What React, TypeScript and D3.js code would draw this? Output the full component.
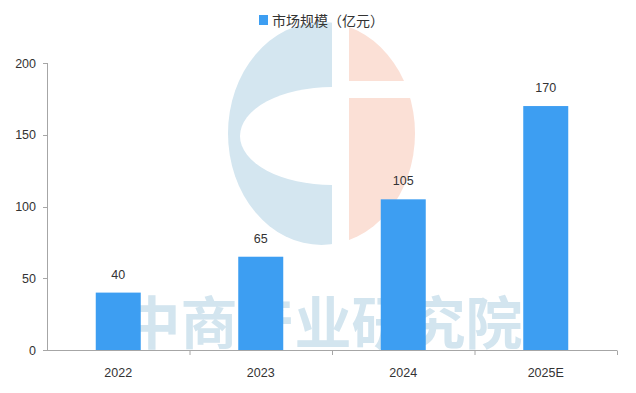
import React from "react";
import * as d3 from "d3";

const categories = ["2022", "2023", "2024", "2025E"];
const values = [40, 65, 105, 170];
const yTicks = [0, 50, 100, 150, 200];
const legendLabel = "市场规模（亿元）";
const logoText = "中商产业研究院";

const W = 636;
const H = 393;
const BAR = "#3d9ef2";
const AXIS = "#a6a6a6";
const FONT = "'Liberation Sans', Arial, sans-serif";

export default function App() {
  const x = d3.scaleBand<string>().domain(categories).range([47, 617]).paddingInner(0).paddingOuter(0);
  const y = d3.scaleLinear().domain([0, 200]).range([350, 63]);
  const barW = 45;

  // logo geometry
  const cx = 321.5, cy = 133.5, rx = 93.5, ry = 111.5;
  const clipId = "logoClip";

  return (
    <svg width={W} height={H} style={{ position: "absolute", left: 0, top: 0, background: "#fff" }} fontFamily={FONT}>
      <defs>
        <clipPath id={clipId}>
          <ellipse cx={cx} cy={cy} rx={rx} ry={ry} />
        </clipPath>
      </defs>
      {/* publisher logo (background) */}
      <g clipPath={`url(#${clipId})`}>
        <rect x={cx - rx} y={cy - ry} width={rx + 10.5} height={ry * 2} fill="#d4e6f0" />
        <ellipse cx={cx + 10.5} cy={136} rx={92} ry={49} fill="#fff" />
        <rect x={349} y={cy - ry} width={80} height={81 - (cy - ry)} fill="#fbe0d6" />
        <rect x={349} y={98} width={80} height={cy + ry - 98} fill="#fbe0d6" />
      </g>
      <text x={323} y={344} textAnchor="middle" fontSize={57} fontWeight={700}
        fontFamily="'Noto Sans CJK SC', sans-serif" fill="#d3e5ef">
        {logoText}
      </text>

      {/* legend */}
      <rect x={259} y={15} width={9} height={10} fill={BAR} />
      <text x={272} y={25.5} fontSize={14} fill="#333" fontFamily="'Noto Sans CJK SC', sans-serif">{legendLabel}</text>

      {/* bars */}
      {categories.map((c, i) => {
        const cxb = (x(c) as number) + x.bandwidth() / 2;
        return (
          <g key={c}>
            <rect x={cxb - barW / 2} y={y(values[i])} width={barW} height={y(0) - y(values[i])} fill={BAR} />
            <text x={cxb} y={y(values[i]) - 14} textAnchor="middle" fontSize={12.5} fill="#333">{values[i]}</text>
          </g>
        );
      })}

      {/* y axis */}
      <line x1={47.5} x2={47.5} y1={y(200)} y2={y(0)} stroke={AXIS} />
      {yTicks.map((t) => (
        <g key={t}>
          <line x1={43} x2={47.5} y1={Math.round(y(t)) + 0.5} y2={Math.round(y(t)) + 0.5} stroke={AXIS} />
          <text x={36} y={y(t) + 4.5} textAnchor="end" fontSize={12.5} fill="#333">{t}</text>
        </g>
      ))}

      {/* x axis */}
      <line x1={47} x2={617} y1={350.5} y2={350.5} stroke={AXIS} />
      {categories.map((c) => (
        <line key={"t" + c} x1={(x(c) as number) + x.bandwidth() + 0.5} x2={(x(c) as number) + x.bandwidth() + 0.5}
          y1={350.5} y2={355} stroke={AXIS} />
      ))}
      {categories.map((c) => (
        <text key={"l" + c} x={(x(c) as number) + x.bandwidth() / 2} y={377} textAnchor="middle" fontSize={12.5} fill="#333">
          {c}
        </text>
      ))}
    </svg>
  );
}
